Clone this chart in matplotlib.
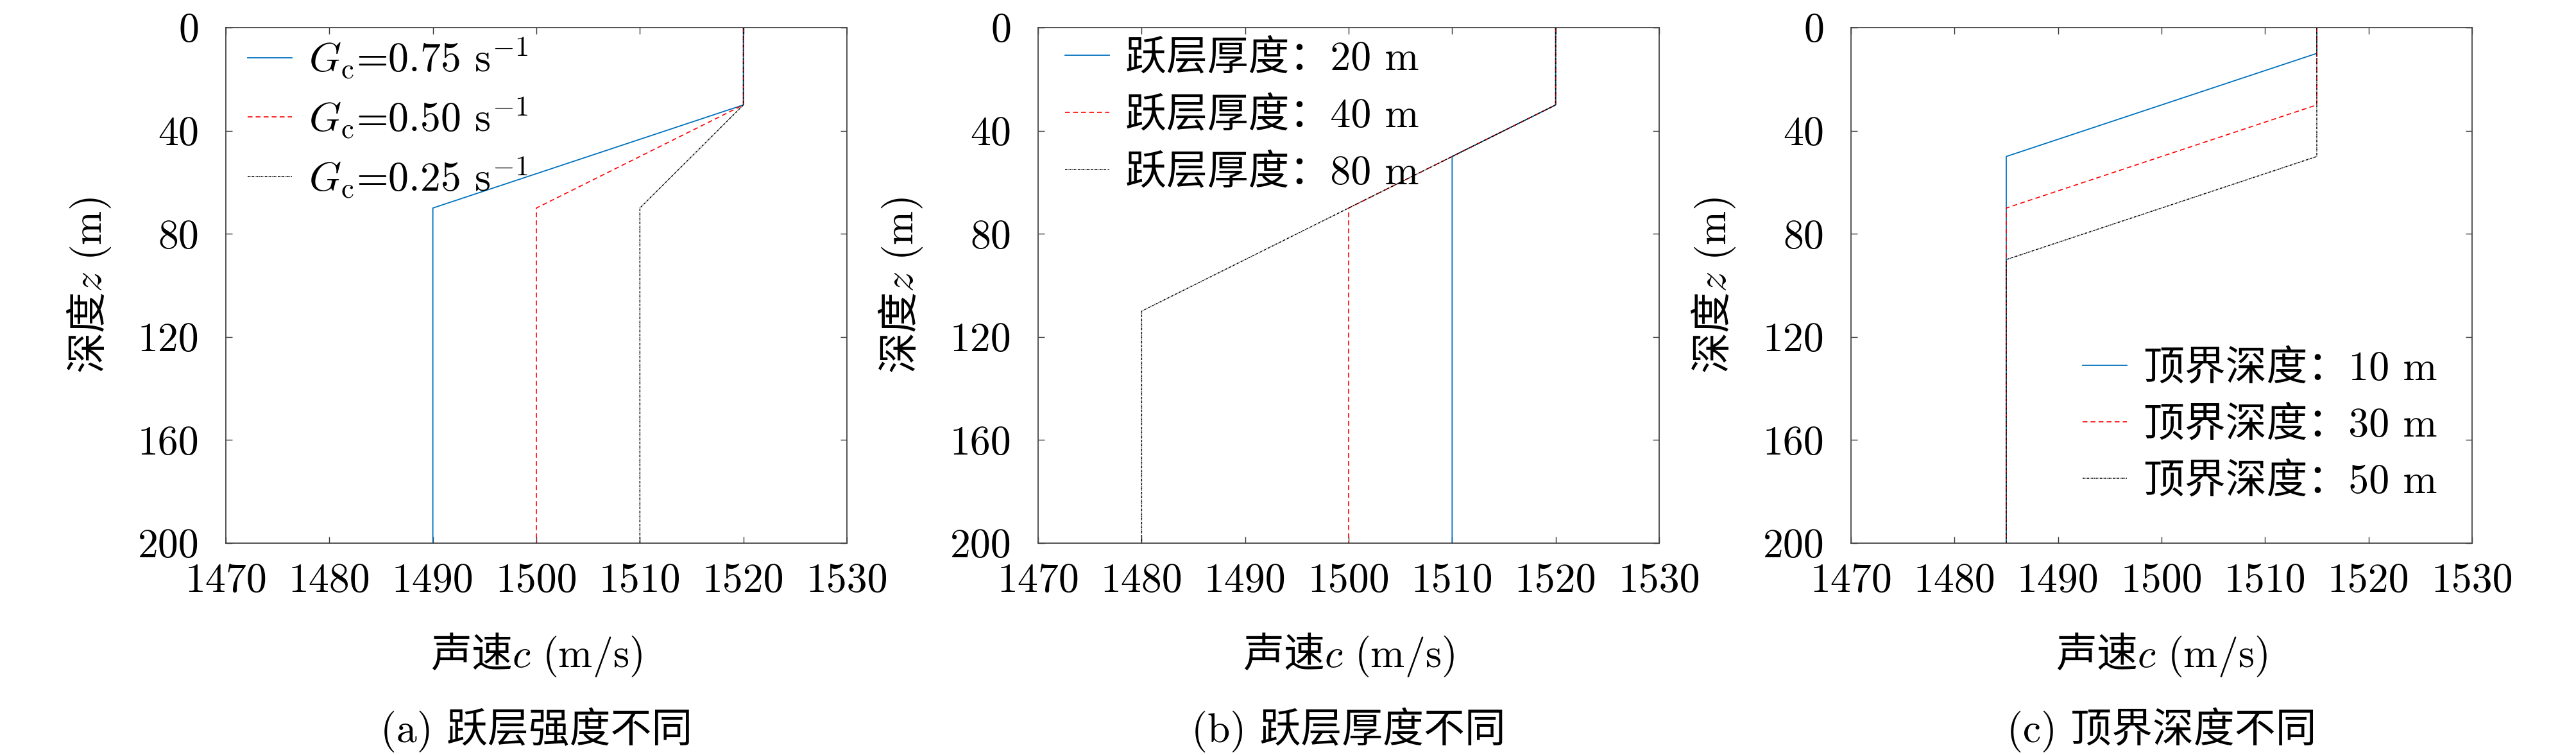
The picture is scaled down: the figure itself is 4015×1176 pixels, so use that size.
import matplotlib
matplotlib.use("Agg")
import matplotlib.pyplot as plt
from matplotlib.ticker import FixedLocator

plt.rcParams['font.family'] = ['cmr10', 'Noto Sans CJK SC', 'DejaVu Sans']
plt.rcParams['mathtext.fontset'] = 'cm'
plt.rcParams['axes.formatter.use_mathtext'] = True
plt.rcParams['axes.unicode_minus'] = False

# ---------------- data ----------------
# (a) different thermocline strength
a_labels = [r'$G_{\mathrm{c}}$=0.75 s$^{-1}$', r'$G_{\mathrm{c}}$=0.50 s$^{-1}$', r'$G_{\mathrm{c}}$=0.25 s$^{-1}$']
a_speed = [[1520, 1520, 1490, 1490], [1520, 1520, 1500, 1500], [1520, 1520, 1510, 1510]]
a_depth = [[0, 30, 70, 200], [0, 30, 70, 200], [0, 30, 70, 200]]

# (b) different thermocline thickness
b_labels = ['跃层厚度：20 m', '跃层厚度：40 m', '跃层厚度：80 m']
b_speed = [[1520, 1520, 1510, 1510], [1520, 1520, 1500, 1500], [1520, 1520, 1480, 1480]]
b_depth = [[0, 30, 50, 200], [0, 30, 70, 200], [0, 30, 110, 200]]

# (c) different top-boundary depth
c_labels = ['顶界深度：10 m', '顶界深度：30 m', '顶界深度：50 m']
c_speed = [[1515, 1515, 1485, 1485], [1515, 1515, 1485, 1485], [1515, 1515, 1485, 1485]]
c_depth = [[0, 10, 50, 200], [0, 30, 70, 200], [0, 50, 90, 200]]

captions = ['(a) 跃层强度不同', '(b) 跃层厚度不同', '(c) 顶界深度不同']
x_label = r'声速$c\ \mathrm{(m/s)}$'
y_label = r'深度$z\ \mathrm{(m)}$'
x_ticks = [1470, 1480, 1490, 1500, 1510, 1520, 1530]
y_ticks = [0, 40, 80, 120, 160, 200]

# ---------------- style ----------------
colors = ['#0072BD', '#FF0000', '#000000']
styles = ['-', (0, (4.5, 3)), (0, (2.2, 0.8, 0.6, 0.8))]
lws = [1.3, 1.2, 1.1]

W, H = 4016, 1176
fig = plt.figure(figsize=(W / 100, H / 100), dpi=100)

lefts = [352, 1618, 2885]
ax_w = 968
top_px, bot_px = 43, 846
ax_h = bot_px - top_px

fs = 46
cjk = ['Noto Sans CJK SC']

legend_opts = [
    dict(loc='upper left', bbox_to_anchor=(0.022, 1.0), labelspacing=0.36),
    dict(loc='upper left', bbox_to_anchor=(0.030, 0.9925), labelspacing=0.46),
    dict(loc='lower right', bbox_to_anchor=(0.9566, 0.066), labelspacing=0.44),
]
datasets = [(a_speed, a_depth, a_labels),
            (b_speed, b_depth, b_labels),
            (c_speed, c_depth, c_labels)]

for i, (speeds, depths, labels) in enumerate(datasets):
    l = lefts[i]
    ax = fig.add_axes([l / W, 1 - bot_px / H, ax_w / W, ax_h / H])
    for j in range(3):
        ax.plot(speeds[j], depths[j], color=colors[j], linestyle=styles[j],
                lw=lws[j], label=labels[j])
    ax.set_xlim(1470, 1530)
    ax.set_ylim(200, 0)
    ax.xaxis.set_major_locator(FixedLocator(x_ticks))
    ax.yaxis.set_major_locator(FixedLocator(y_ticks))
    ax.set_xticklabels([str(t) for t in x_ticks])
    ax.set_yticklabels([str(t) for t in y_ticks])
    ax.tick_params(direction='in', top=True, right=True, length=7.5, width=1.0,
                   color='#333333', labelsize=fs)
    ax.tick_params(axis='x', pad=22)
    ax.tick_params(axis='y', pad=30)
    for s in ax.spines.values():
        s.set_color('#444444')
        s.set_linewidth(1.3)
    ax.set_xlabel(x_label, fontsize=fs, family=cjk, va='center')
    ax.xaxis.set_label_coords(0.5, (bot_px - 1020) / ax_h)
    ax.set_ylabel(y_label, fontsize=fs, family=cjk, va='center')
    ax.yaxis.set_label_coords((138 - 352) / ax_w, 0.5)
    ax.legend(frameon=False, fontsize=fs, handlelength=1.08, handletextpad=0.4,
              borderaxespad=0.0, borderpad=0.2, **legend_opts[i])
    fig.text((l + ax_w / 2) / W, 1 - 1137 / H, captions[i], fontsize=fs,
             ha='center', va='center')

fig.savefig('out.png', dpi=100)
